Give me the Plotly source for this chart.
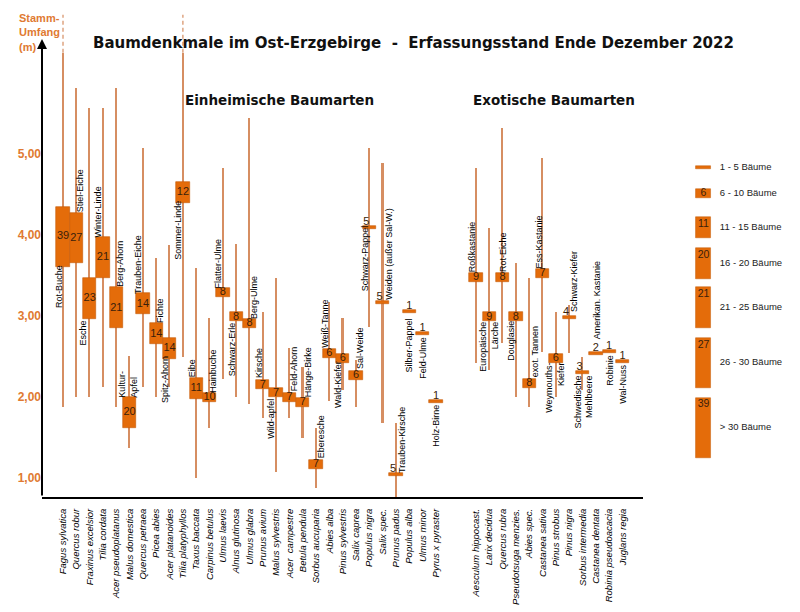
import plotly.graph_objects as go

# ---------------- data ----------------
# category slots (two empty slots separate native and exotic species)
slots = list(range(0, 29)) + list(range(31, 43))

latin = ["Fagus sylvatica", "Quercus robur", "Fraxinus excelsior", "Tilia cordata",
         "Acer pseudoplatanus", "Malus domestica", "Quercus petraea", "Picea abies",
         "Acer platanoides", "Tilia platyphyllos", "Taxus baccata", "Carpinus betulus",
         "Ulmus laevis", "Alnus glutinosa", "Ulmus glabra", "Prunus avium",
         "Malus sylvestris", "Acer  campestre", "Betula pendula", "Sorbus aucuparia",
         "Abies alba", "Pinus sylvestris", "Salix caprea", "Populus nigra", "Salix spec.",
         "Prunus padus", "Populus alba", "Ulmus minor", "Pyrus x pyraster",
         "Aesculum hippocast.", "Larix decidua", "Quercus rubra", "Pseudotsuga menzies.",
         "Abies spec.", "Castanea sativa", "Pinus strobus", "Pinus nigra",
         "Sorbus intermedia", "Castanea dentata", "Robinia pseudoacacia", "Juglans regia"]

german = ["Rot-Buche", "Stiel-Eiche", "Esche", "Winter-Linde", "Berg-Ahorn",
          "Kultur-<br>Apfel", "Trauben-Eiche", "Fichte", "Spitz-Ahorn", "Sommer-Linde",
          "Eibe", "Hainbuche", "Flatter-Ulme", "Schwarz-Erle", "Berg-Ulme", "Kirsche",
          "Wild-apfel", "Feld-Ahorn", "Hänge-Birke", "Eberesche", "Weiß-Tanne",
          "Wald-Kiefer", "Sal-Weide", "Schwarz-Pappel", "Weiden (außer Sal-W.)",
          "Trauben-Kirsche", "Silber-Pappel", "Feld-Ulme", "Holz-Birne",
          "Roßkastanie", "Europäische<br>Lärche", "Rot-Eiche", "Douglasie", "exot. Tannen",
          "Ess-Kastanie", "Weymouths-<br>Kiefer", "Schwarz-Kiefer", "Schwedische<br>Mehlbeere",
          "Amerikan. Kastanie", "Robinie", "Wal-Nuss"]

counts = [39, 27, 23, 21, 21, 20, 14, 14, 14, 12, 11, 10, 8, 8, 8, 7, 7, 7, 7, 7,
          6, 6, 6, 5, 5, 5, 1, 1, 1,
          9, 9, 8, 8, 8, 7, 6, 4, 3, 2, 1, 1]

# smallest trunk girth (m)
girth_min = [1.88, 2.00, 2.00, 2.12, 1.88, 1.37, 2.12, 2.00, 2.12, 2.49, 1.00, 1.62,
             2.22, 2.00, 1.91, 1.74, 1.07, 1.74, 1.49, 0.88, 1.95, 2.09, 1.88, 2.86,
             1.68, 0.77, None, None, None,
             2.42, 2.33, 2.67, 2.00, 1.88, 2.56, 2.00, 2.54, 2.09, None, None, None]
# largest trunk girth (m)
girth_max = [6.25, 5.81, 5.57, 5.57, 5.81, 2.51, 5.07, 3.72, 3.88, 6.25, 3.59, 2.98,
             4.83, 3.89, 5.44, 3.05, 3.47, 2.60, 2.37, 1.62, 3.17, 2.98, 2.46, 5.07,
             4.89, 1.68, None, None, None,
             4.83, 4.09, 5.32, 3.65, 3.47, 4.95, 3.05, 3.14, 2.49, None, None, None]
# mean trunk girth (m)
girth_mean = [3.98, 3.96, 3.22, 3.72, 3.10, 1.81, 3.15, 2.78, 2.60, 4.53, 2.11, 2.00,
              3.29, 2.99, 2.91, 2.15, 2.05, 2.00, 1.93, 1.17, 2.54, 2.48, 2.27, 4.09,
              3.17, 1.04, 3.05, 2.78, 1.94,
              3.48, 2.99, 3.48, 2.99, 2.17, 3.53, 2.48, 2.98, 2.30, 2.54, 2.56, 2.44]
# species whose largest tree lies above the axis end (dashed continuation)
beyond_axis = ["Rot-Buche", "Sommer-Linde"]

legend_labels = ["1 - 5 Bäume", "6 - 10 Bäume", "11 - 15 Bäume", "16 - 20 Bäume",
                 "21 - 25 Bäume", "26 - 30 Bäume", "> 30 Bäume"]
legend_samples = [3, 6, 11, 20, 21, 27, 39]

y_ticks = [1, 2, 3, 4, 5]
y_ticktext = ["1,00", "2,00", "3,00", "4,00", "5,00"]

# ---------------- style ----------------
BOX = "#E46C0A"
BOX_EDGE = "#C45A06"
LINE = "#D68E62"
ORANGE_TXT = "#E07A32"
NUM_TXT = "#3A1E0A"
LBL = "Liberation Sans, Arial"
SANS = "Liberation Sans, Arial"
HEAD = "DejaVu Sans, Liberation Sans, Arial"

PX_PER_M = 81.0


def box_height(n):
    # box height (in m of axis) encodes the size class of the tree count
    px = (3 if n <= 5 else 9 if n <= 10 else 21 if n <= 15 else 31 if n <= 20
          else 41 if n <= 25 else 50 if n <= 30 else 60)
    return px / PX_PER_M


# label placement (x in slot units, y in m, text alignment)
label_place = [(-0.30, 3.36, "center"), (1.28, 4.54, "center"), (1.54, 2.79, "center"),
               (2.63, 4.28, "center"), (4.32, 3.64, "center"), (4.92, 2.16, "left"),
               (5.63, 3.63, "center"), (7.32, 3.07, "center"), (7.66, 2.21, "center"),
               (8.67, 4.06, "center"), (9.65, 2.35, "center"), (11.30, 2.32, "center"),
               (11.64, 3.65, "center"), (12.69, 2.59, "center"), (14.38, 3.23, "center"),
               (14.71, 2.42, "center"), (15.60, 1.73, "center"), (17.30, 2.35, "center"),
               (18.36, 2.30, "center"), (19.33, 1.51, "center"), (19.70, 2.91, "center"),
               (20.65, 2.15, "center"), (22.33, 2.60, "center"), (22.63, 3.72, "center"),
               (24.47, 3.77, "center"), (25.45, 1.47, "center"), (26.00, 2.64, "center"),
               (27.06, 2.49, "center"), (28.04, 1.64, "center"),
               (30.70, 3.86, "center"), (31.98, 2.62, "right"), (33.03, 3.79, "center"),
               (33.67, 2.69, "center"), (35.40, 2.56, "center"), (35.74, 3.91, "center"),
               (36.98, 2.11, "right"), (38.36, 3.42, "center"), (39.08, 1.94, "right"),
               (40.05, 3.19, "center"), (41.10, 2.33, "center"), (42.08, 2.16, "center")]

fig = go.Figure()

# range lines (min..max) drawn as thin bars so boxes can cover them
lx, lb, lh = [], [], []
for s, a, b in zip(slots, girth_min, girth_max):
    if a is not None and b is not None:
        lx.append(s)
        lb.append(a)
        lh.append(b - a)
fig.add_trace(go.Bar(x=lx, y=lh, base=lb, width=0.12, marker=dict(color=LINE, line=dict(width=0)),
                     hoverinfo="skip", showlegend=False, textposition="none"))

# boxes sized by count class
bh = [box_height(n) for n in counts]
fig.add_trace(go.Bar(x=slots, y=bh, base=[m - h / 2 for m, h in zip(girth_mean, bh)],
                     width=1.0, marker=dict(color=BOX, line=dict(color=BOX_EDGE, width=0.6)),
                     textposition="none", showlegend=False, hoverinfo="skip"))

# dashed continuation above axis end
dx, dy = [], []
for s, g, mx in zip(slots, german, girth_max):
    if g in beyond_axis:
        dx += [s, s, None]
        dy += [mx, 6.72, None]
fig.add_trace(go.Scatter(x=dx, y=dy, mode="lines", line=dict(color=LINE, width=1.2, dash="4px,3px"),
                         showlegend=False, hoverinfo="skip"))

# count numbers
bx, by, bt = [], [], []
sx, sy, st, sp = [], [], [], []
for s, n, m, a in zip(slots, counts, girth_mean, girth_min):
    if n > 5:
        bx.append(s); by.append(m); bt.append(str(n))
    else:
        sx.append(s); sy.append(m); st.append(str(n))
        sp.append("top left" if a is not None else "top center")
fig.add_trace(go.Scatter(x=bx, y=by, text=bt, mode="text", textposition="middle center",
                         textfont=dict(family=SANS, size=11, color=NUM_TXT),
                         showlegend=False, hoverinfo="skip"))
fig.add_trace(go.Scatter(x=sx, y=sy, text=st, mode="text", textposition=sp,
                         textfont=dict(family=SANS, size=11, color=NUM_TXT),
                         showlegend=False, hoverinfo="skip"))

# German name labels
for g, (x, y, al) in zip(german, label_place):
    fig.add_annotation(x=x, y=y, xref="x", yref="y", text=g, textangle=-90, showarrow=False,
                       xanchor="center", yanchor="middle", align=al,
                       font=dict(family=LBL, size=9, color="black"))

# ---------------- custom legend (second x axis) ----------------
leg_y = [4.83, 4.51, 4.09, 3.65, 3.10, 2.42, 1.62]
leg_h = [box_height(n) for n in legend_samples]
fig.add_trace(go.Bar(x=[25.7] * 7, y=leg_h, base=[c - h / 2 for c, h in zip(leg_y, leg_h)],
                     width=15, xaxis="x2", yaxis="y",
                     marker=dict(color=BOX, line=dict(color=BOX_EDGE, width=0.5)),
                     textposition="none", showlegend=False, hoverinfo="skip"))
num_y = []
for c, h, n in zip(leg_y, leg_h, legend_samples):
    if n <= 10:
        num_y.append(c)
    else:
        num_y.append(c + h / 2 - 7 / PX_PER_M)
fig.add_trace(go.Scatter(x=[25.7] * 6, y=num_y[1:], text=[str(n) for n in legend_samples[1:]],
                         mode="text", textposition="middle center", xaxis="x2", yaxis="y",
                         textfont=dict(family=SANS, size=10.5, color=NUM_TXT),
                         showlegend=False, hoverinfo="skip"))
fig.add_trace(go.Scatter(x=[42.0] * 7, y=leg_y, text=legend_labels, mode="text",
                         textposition="middle right", xaxis="x2", yaxis="y",
                         textfont=dict(family=LBL, size=9.5, color="#222222"),
                         showlegend=False, hoverinfo="skip"))

# ---------------- axes & layout ----------------
Y0, Y1 = 0.766, 6.778
X0, X1 = -1.577, 43.54

# page body has an 8px default margin, so the figure is 8px smaller and shifted
fig.update_layout(
    width=792, height=604,
    margin=dict(l=34, r=10, t=2, b=115, autoexpand=False),
    paper_bgcolor="white", plot_bgcolor="white",
    barmode="overlay", bargap=0,
    showlegend=False,
    xaxis=dict(domain=[0, 601 / 748], range=[X0, X1], tickmode="array", tickvals=slots,
               ticktext=latin, tickangle=-90, showgrid=False, zeroline=False, automargin=False,
               showline=True, linecolor="black", linewidth=2, ticks="outside", ticklen=6,
               tickcolor="rgba(0,0,0,0)",
               tickfont=dict(family=LBL, size=9.5, color="black", style="italic")),
    xaxis2=dict(domain=[0.85, 1.0], range=[0, 112.2], anchor="y", visible=False),
    yaxis=dict(range=[Y0, Y1], tickmode="array", tickvals=y_ticks, ticktext=y_ticktext,
               showgrid=False, zeroline=False, showline=False, ticks="", automargin=False,
               tickfont=dict(family=SANS, size=12, color=ORANGE_TXT, weight="bold")),
)

# y axis arrow
fig.add_annotation(x=X0, y=6.42, ax=X0, ay=Y0, xref="x", yref="y", axref="x", ayref="y",
                   text="", showarrow=True, arrowhead=2, arrowsize=1, arrowwidth=2,
                   arrowcolor="black", standoff=0, startstandoff=0)

NB = "\u00a0"
fig.add_annotation(x=0.4967, y=0.932, xref="paper", yref="paper", showarrow=False,
                   text="Baumdenkmale im Ost-Erzgebirge" + NB * 2 + "-" + NB * 2 +
                        "Erfassungsstand Ende Dezember 2022",
                   font=dict(family=HEAD, size=15, color="#111111", weight="bold"),
                   xanchor="center", yanchor="middle")
fig.add_annotation(x=0.318, y=0.815, xref="paper", yref="paper", showarrow=False,
                   text="Einheimische Baumarten",
                   font=dict(family=HEAD, size=13.5, color="#111111", weight="bold"),
                   xanchor="center", yanchor="middle")
fig.add_annotation(x=0.684, y=0.815, xref="paper", yref="paper", showarrow=False,
                   text="Exotische Baumarten",
                   font=dict(family=HEAD, size=13.5, color="#111111", weight="bold"),
                   xanchor="center", yanchor="middle")
fig.add_annotation(x=-0.0334, y=0.999, xref="paper", yref="paper", showarrow=False,
                   text="Stamm-<br>Umfang<br>(m)", align="left",
                   font=dict(family=SANS, size=11, color=ORANGE_TXT, weight="bold"),
                   xanchor="left", yanchor="top")

fig.write_html("out.html")
